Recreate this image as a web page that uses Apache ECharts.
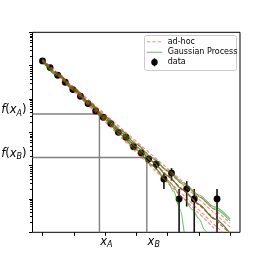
<!DOCTYPE html>
<html><head><meta charset="utf-8">
<script src="https://cdn.jsdelivr.net/npm/echarts@6/dist/echarts.min.js"></script>
<style>html,body{margin:0;padding:0;background:#fff}#c{width:266px;height:266px}</style>
</head><body><div id="c"></div>
<script>
// ---- data ----
const dataX = [0, 0.243, 0.486, 0.728, 0.971, 1.214, 1.457, 1.700, 1.942, 2.185, 2.428, 2.671, 2.914, 3.157, 3.399, 3.642, 3.885, 4.128, 4.371, 4.614, 4.856, 5.585];
const dataY = [13800, 8750, 5140, 3170, 1915, 1205, 728, 437, 283, 183, 100, 71, 37, 24, 16, 11, 4, 6, 1, 2, 1, 1];
const dataErr = [117.5, 93.5, 71.7, 56.3, 43.8, 34.7, 27.0, 20.9, 16.8, 13.5, 10, 8.43, 6.08, 4.9, 4, 3.32, 2, 2.45, 1, 1.41, 1, 1];

const xTicks = [0, 1, 2, 3, 4, 5, 6];
const yMajorTicks = [0.1, 1, 10, 100, 1000, 10000, 100000];
const yMinorTicks = [
  0.2, 0.3, 0.4, 0.5, 0.6, 0.7, 0.8, 0.9,
  2, 3, 4, 5, 6, 7, 8, 9,
  20, 30, 40, 50, 60, 70, 80, 90,
  200, 300, 400, 500, 600, 700, 800, 900,
  2000, 3000, 4000, 5000, 6000, 7000, 8000, 9000,
  20000, 30000, 40000, 50000, 60000, 70000, 80000, 90000
];

// ad-hoc model (straight on log axis): [x, y]
const adhocMid = [[0, 14488], [6, 0.0935]];
const adhocUp1 = [[0, 14791], [6, 0.1445]];
const adhocLo1 = [[0, 14191], [6, 0.0605]];
const adhocUp2 = [[0, 14997], [6, 0.1932]];
const adhocLo2 = [[0, 13996], [6, 0.0453]];

// Gaussian process curves
const gpX = [0, 0.5, 1, 1.5, 2, 2.5, 3, 3.5, 4, 4.5, 5, 5.5, 6];
const gpMid = [14488, 5353, 1977, 730.3, 269.8, 99.66, 36.81, 13.60, 5.023, 1.855, 0.6855, 0.2532, 0.09354];
const gpUp2 = [16634, 5936, 2193, 810, 309.7, 118.4, 45.29, 17.93, 7.345, 3.115, 1.321, 0.5801, 0.2547];
const gpUp1 = [15524, 5735, 2118, 782.5, 299.2, 114.4, 43.75, 16.73, 6.855, 2.809, 1.191, 0.5052, 0.2218];
const gpLo1X = [0, 0.5, 1, 1.5, 2, 2.5, 3, 3.5, 4, 4.5, 4.8, 5.0, 5.2, 5.4];
const gpLo1 = [13521, 4995, 1845, 681.6, 243.2, 86.80, 30.97, 10.68, 3.556, 1.068, 0.4775, 0.2606, 0.1156, 0.0339];
const gpLo2X = [0, 0.5, 1, 1.5, 2, 2.5, 3, 3.5, 4, 4.2, 4.4, 4.55];
const gpLo2 = [13062, 4826, 1782, 658.3, 235.0, 83.85, 28.91, 9.966, 3.319, 1.690, 0.4955, 0.0750];

// marked points
const xA = 1.822, fA = 355;
const xB = 3.338, fB = 17.5;

const legendNames = ['ad-hoc', 'Gaussian Process', 'data'];

// ---- chart ----
const X_MIN = -0.32, X_MAX = 6.32, Y_MIN = 0.1, Y_MAX = 100000;
const GREEN = 'rgba(0,140,0,0.55)';
const RED = 'rgba(255,40,40,0.55)';
const zip = (xs, ys) => xs.map((x, i) => [x, ys[i]]);

const chart = echarts.init(document.getElementById('c'), null, {renderer: 'canvas'});

function lineSeries(data, color, dashed, z, w) {
  return {
    type: 'line', data, symbol: 'none', showSymbol: false, silent: true, animation: false,
    clip: true, z: z || 3, smooth: 0.3, smoothMonotone: 'x',
    lineStyle: {color, width: w || 1.1, type: dashed ? [3.5, 2] : 'solid'}
  };
}

const series = [
  // guide lines
  {type: 'line', data: [[X_MIN, fA], [xA, fA], [xA, Y_MIN]], symbol: 'none', silent: true, animation: false, clip: true, z: 1,
   lineStyle: {color: '#808080', width: 1.4}},
  {type: 'line', data: [[X_MIN, fB], [xB, fB], [xB, Y_MIN]], symbol: 'none', silent: true, animation: false, clip: true, z: 1,
   lineStyle: {color: '#808080', width: 1.4}},
  // data with error bars
  {type: 'custom', z: 2, animation: false, silent: true,
   data: dataX.map((x, i) => [x, dataY[i], Math.max(dataY[i] - dataErr[i], Y_MIN), dataY[i] + dataErr[i]]),
   renderItem: (params, api) => {
     const p = api.coord([api.value(0), api.value(1)]);
     const pl = api.coord([api.value(0), api.value(2)]);
     const ph = api.coord([api.value(0), api.value(3)]);
     return {type: 'group', children: [
       {type: 'line', shape: {x1: p[0], y1: pl[1], x2: p[0], y2: ph[1]}, style: {stroke: '#111', lineWidth: 1.6}},
       {type: 'circle', shape: {cx: p[0], cy: p[1], r: 3.4}, style: {fill: '#000'}}
     ]};
   }},
  lineSeries(zip(gpX, gpUp2), GREEN, false),
  lineSeries(zip(gpX, gpUp1), GREEN, false),
  lineSeries(zip(gpLo1X, gpLo1), GREEN, false),
  lineSeries(zip(gpLo2X, gpLo2), GREEN, false),
  lineSeries(zip(gpX, gpMid), 'rgba(70,110,20,0.85)', false, 3, 1.2),
  lineSeries(adhocUp2, RED, true, 4),
  lineSeries(adhocUp1, RED, true, 4),
  lineSeries(adhocLo1, RED, true, 4),
  lineSeries(adhocLo2, RED, true, 4),
  lineSeries(adhocMid, 'rgba(170,70,30,0.85)', true, 4, 1.2)
];

chart.setOption({
  animation: false,
  backgroundColor: '#fff',
  grid: {left: 32.5, top: 32.3, right: 26, bottom: 33.7, show: true, borderColor: '#000', borderWidth: 1, backgroundColor: 'transparent'},
  xAxis: {type: 'value', min: X_MIN, max: X_MAX,
    axisLine: {show: false, onZero: false},
    axisTick: {show: true, inside: false, length: 3.5, customValues: xTicks, lineStyle: {color: '#000', width: 1}},
    axisLabel: {show: false}, splitLine: {show: false}},
  yAxis: {type: 'log', logBase: 10, min: Y_MIN, max: Y_MAX, axisLine: {show: false, onZero: false},
    axisLabel: {show: false}, splitLine: {show: false}, minorTick: {show: false},
    axisTick: {show: true, inside: false, length: 3.5, customValues: yMajorTicks, lineStyle: {color: '#000', width: 1}}},
  series
});

// ---- minor y ticks (positions from the log axis) and annotations ----
const graphics = [];
const xLeft = chart.convertToPixel({gridIndex: 0}, [X_MIN, Y_MIN])[0];
yMinorTicks.forEach(v => {
  const py = Math.round(chart.convertToPixel({gridIndex: 0}, [X_MIN, v])[1]) + 0.5;
  graphics.push({type: 'line', silent: true, z: 20, shape: {x1: xLeft - 2.5, y1: py, x2: xLeft, y2: py},
    style: {stroke: '#000', lineWidth: 1}});
});

const mctx = document.createElement('canvas').getContext('2d');
function measure(t, font) { mctx.font = font; return mctx.measureText(t).width; }
const FAM = '"DejaVu Sans"';
const MAIN = 11.5, SUB = 8;
function mathPieces(letter, sub, withF) {
  const p = [];
  if (withF) { p.push({t: 'f', it: true, s: MAIN}); p.push({t: '(', it: false, s: MAIN}); }
  p.push({t: letter, it: true, s: MAIN});
  p.push({t: sub, it: true, s: SUB, sub: true});
  if (withF) p.push({t: ')', it: false, s: MAIN});
  return p;
}
function buildLabel(pieces, left, cy) {
  const els = [];
  let x = left;
  pieces.forEach(pc => {
    const font = (pc.it ? 'italic ' : '') + pc.s + 'px ' + FAM;
    els.push({type: 'text', x: x, y: cy + (pc.sub ? 3.3 : 0), silent: true,
      style: {text: pc.t, fontFamily: FAM, fontSize: pc.s, fontStyle: pc.it ? 'italic' : 'normal',
              fill: '#000', textAlign: 'left', textVerticalAlign: 'middle'}});
    x += measure(pc.t, font);
  });
  return {els, width: x - left};
}
function widthOf(pieces) {
  return pieces.reduce((w, pc) => w + measure(pc.t, (pc.it ? 'italic ' : '') + pc.s + 'px ' + FAM), 0);
}

const pA = chart.convertToPixel({gridIndex: 0}, [xA, fA]);
const pB = chart.convertToPixel({gridIndex: 0}, [xB, fB]);
const yBottom = chart.convertToPixel({gridIndex: 0}, [0, Y_MIN])[1];

[[pA, 'A'], [pB, 'B']].forEach(([p, s]) => {
  graphics.push(...buildLabel(mathPieces('x', s, false), p[0] + 0.8, yBottom + 9.5).els);
});
[[pA, 'A'], [pB, 'B']].forEach(([p, s]) => {
  const pcs = mathPieces('x', s, true);
  const w = widthOf(pcs);
  graphics.push(...buildLabel(pcs, xLeft - 6 - w, p[1] - 3.7).els);
});

// legend box
const LX = 144, LY = 35, LW = 92, LH = 35;
const LF = 8;
const rows = [41.7, 52.3, 62.3];
graphics.push({type: 'rect', shape: {x: LX + 0.5, y: LY + 0.5, width: LW, height: LH, r: 2}, silent: true,
  style: {fill: 'rgba(255,255,255,0.8)', stroke: '#cccccc', lineWidth: 1}, z: 10});
graphics.push({type: 'line', shape: {x1: 146.7, y1: rows[0], x2: 162.3, y2: rows[0]}, silent: true, z: 11,
  style: {stroke: RED, lineWidth: 1.1, lineDash: [3.5, 2]}});
graphics.push({type: 'line', shape: {x1: 146.7, y1: rows[1], x2: 162.3, y2: rows[1]}, silent: true, z: 11,
  style: {stroke: GREEN, lineWidth: 1.1}});
graphics.push({type: 'line', shape: {x1: 154.5, y1: rows[2] - 4, x2: 154.5, y2: rows[2] + 4}, silent: true, z: 11,
  style: {stroke: '#111', lineWidth: 1.6}});
graphics.push({type: 'circle', shape: {cx: 154.5, cy: rows[2], r: 3.2}, silent: true, z: 11, style: {fill: '#000'}});
legendNames.forEach((n, i) => {
  graphics.push({type: 'text', x: 167.7, y: rows[i], silent: true, z: 11,
    style: {text: n, fontFamily: FAM, fontSize: LF, fill: '#000', textAlign: 'left', textVerticalAlign: 'middle'}});
});

chart.setOption({graphic: graphics});
</script>
</body></html>
